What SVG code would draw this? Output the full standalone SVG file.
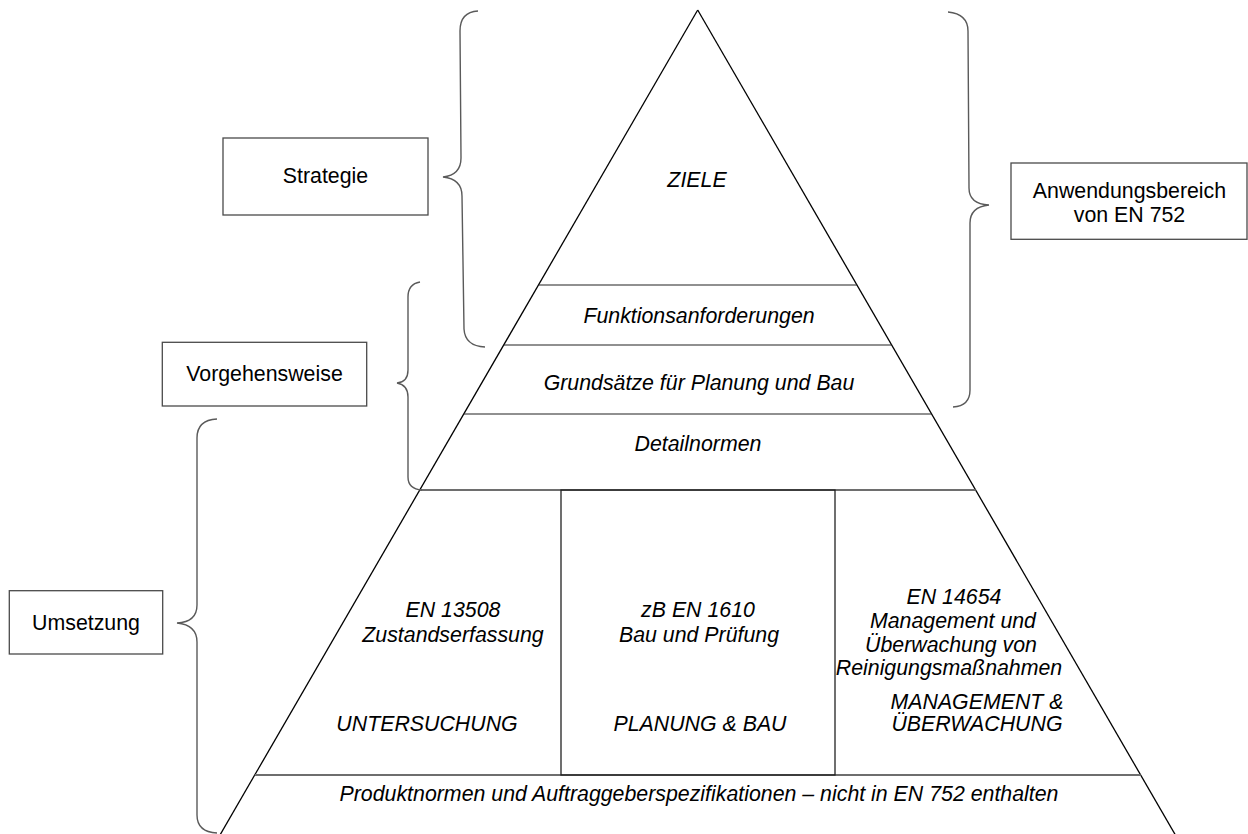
<svg xmlns="http://www.w3.org/2000/svg" width="1248" height="834" viewBox="0 0 1248 834">
  <style>
    .bg { fill: #ffffff; }
    .side { stroke: #000000; stroke-width: 1.3; fill: none; }
    .tier { stroke: #222222; stroke-width: 1.2; fill: none; }
    .tier-strong { stroke: #6e6e6e; stroke-width: 2; fill: none; }
    .cell { stroke: #222222; stroke-width: 1.3; fill: none; }
    .box { stroke: #4a4a4a; stroke-width: 1.3; fill: #ffffff; }
    .brace { stroke: #5a5a5a; stroke-width: 1.4; fill: none; }
    text { font-family: "Liberation Sans", Arial, sans-serif; font-size: 21.33px; fill: #000000; text-anchor: middle; }
    .it { font-style: italic; }
  </style>

  <rect class="bg" x="0" y="0" width="1248" height="834"/>

  <!-- Pyramid outline and tiers -->
  <g id="pyramid">
    <line class="side" x1="697.7" y1="10" x2="220" y2="835"/>
    <line class="side" x1="697.7" y1="10" x2="1175.4" y2="835"/>
    <line class="tier" x1="538.5" y1="285" x2="856.9" y2="285"/>
    <line class="tier" x1="503.7" y1="345" x2="891.7" y2="345"/>
    <line class="tier" x1="463.8" y1="414" x2="931.6" y2="414"/>
    <line class="tier-strong" x1="419.8" y1="490" x2="975.6" y2="490"/>
    <line class="tier-strong" x1="254.8" y1="775" x2="1140.6" y2="775"/>
    <rect class="cell" x="561" y="490" width="274" height="285"/>
  </g>

  <g id="ziele">
    <text class="it" x="697" y="187">ZIELE</text>
  </g>
  <g id="funktionsanforderungen">
    <text class="it" x="699" y="323">Funktionsanforderungen</text>
  </g>
  <g id="grundsaetze">
    <text class="it" x="699" y="390">Grundsätze für Planung und Bau</text>
  </g>
  <g id="detailnormen">
    <text class="it" x="698" y="451">Detailnormen</text>
  </g>

  <g id="untersuchung">
    <text class="it" x="453" y="617">EN 13508</text>
    <text class="it" x="453" y="642">Zustandserfassung</text>
    <text class="it" x="427" y="731">UNTERSUCHUNG</text>
  </g>
  <g id="planung-bau">
    <text class="it" x="698" y="617">zB EN 1610</text>
    <text class="it" x="699" y="642">Bau und Prüfung</text>
    <text class="it" x="700" y="731">PLANUNG &amp; BAU</text>
  </g>
  <g id="management">
    <text class="it" x="954" y="604">EN 14654</text>
    <text class="it" x="953" y="628">Management und</text>
    <text class="it" x="951" y="652">Überwachung von</text>
    <text class="it" x="949" y="675">Reinigungsmaßnahmen</text>
    <text class="it" x="977" y="709">MANAGEMENT &amp;</text>
    <text class="it" x="977" y="731">ÜBERWACHUNG</text>
  </g>
  <g id="produktnormen">
    <text class="it" x="699" y="801">Produktnormen und Auftraggeberspezifikationen – nicht in EN 752 enthalten</text>
  </g>

  <!-- Side labels -->
  <g id="strategie">
    <rect class="box" x="223" y="138" width="205" height="77"/>
    <text x="325.5" y="183">Strategie</text>
  </g>
  <g id="vorgehensweise">
    <rect class="box" x="162.3" y="342.3" width="204.4" height="63.7"/>
    <text x="264.5" y="381">Vorgehensweise</text>
  </g>
  <g id="umsetzung">
    <rect class="box" x="9.3" y="590.7" width="153.4" height="63.3"/>
    <text x="86" y="630">Umsetzung</text>
  </g>
  <g id="anwendungsbereich">
    <rect class="box" x="1011" y="163" width="236" height="76.3"/>
    <text x="1129.5" y="198">Anwendungsbereich</text>
    <text x="1129.5" y="222">von EN 752</text>
  </g>

  <!-- Braces linking labels to pyramid tiers -->
  <g id="connectors">
    <path class="brace" d="M478,11 Q460,12 460,31 L461,158 Q461,175 443,177 Q462,179 462,196 L464,329 Q465,346 485,347"/>
    <path class="brace" d="M420,282 Q408,284 408,297 L408,370 Q408,382 397,383 Q408,385 408,397 L408,477 Q408,489 422,490"/>
    <path class="brace" d="M217,419 Q197,420 197,438 L197,605 Q197,622 177,623 Q197,625 197,642 L197,815 Q197,832 217,833"/>
    <path class="brace" d="M948,12 Q968,14 968,31 L969,188 Q969,204 989,205 Q970,207 970,223 L970,390 Q970,406 953,407"/>
  </g>
</svg>
